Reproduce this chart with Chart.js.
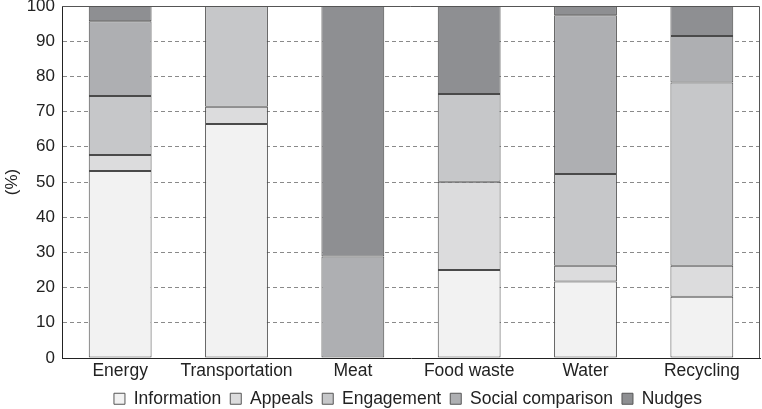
<!DOCTYPE html>
<html>
<head>
<meta charset="utf-8">
<script src="https://cdn.jsdelivr.net/npm/chart.js@4.4.1/dist/chart.umd.min.js"></script>
<style>
  html, body { margin: 0; padding: 0; background: #fff; }
  #wrap { width: 762px; height: 409px; }
</style>
</head>
<body>
<div id="wrap"><canvas id="chart" width="762" height="409"></canvas></div>
<script>
const categories = ['Energy', 'Transportation', 'Meat', 'Food waste', 'Water', 'Recycling'];
const information = [53.1, 66.5, 0, 25.0, 21.7, 17.4];
const appeals = [4.6, 4.9, 0, 25.1, 4.5, 8.8];
const engagement = [16.7, 28.6, 0, 24.9, 26.1, 52.1];
const socialComparison = [21.3, 0, 28.8, 0, 45.1, 13.2];
const nudges = [4.3, 0, 71.2, 25.0, 2.6, 8.5];
const yTicks = [0, 10, 20, 30, 40, 50, 60, 70, 80, 90, 100];

const FONT = "'Liberation Sans', Arial, sans-serif";

// draws the top and right edge of the plot box, and moves the legend
const frame = {
    id: 'frame',
    afterDatasetsDraw(chart) {
        const a = chart.chartArea;
        const ctx = chart.ctx;
        ctx.save();
        ctx.strokeStyle = '#555';
        ctx.lineWidth = 1;
        ctx.beginPath();
        ctx.moveTo(a.left, a.top + 0.5);
        ctx.lineTo(a.right - 0.5, a.top + 0.5);
        ctx.lineTo(a.right - 0.5, a.bottom);
        ctx.stroke();
        ctx.restore();
    },
    afterLayout(chart) {
        const lg = chart.legend;
        lg.top = 381;
        lg.bottom = 409;
        lg.left += 28;
        lg.right += 28;
    }
};

const series = [
    ['Information', information, '#f2f2f2'],
    ['Appeals', appeals, '#dcdcdd'],
    ['Engagement', engagement, '#c6c7c9'],
    ['Social comparison', socialComparison, '#aeafb2'],
    ['Nudges', nudges, '#8e8f92']
];

new Chart(document.getElementById('chart'), {
    type: 'bar',
    data: {
        labels: categories,
        datasets: series.map(([label, data, color]) => ({
            label: label,
            data: data,
            backgroundColor: color,
            borderColor: '#4a4a4a',
            borderWidth: 1,
            borderSkipped: false,
            categoryPercentage: 0.54,
            barPercentage: 1
        }))
    },
    options: {
        responsive: false,
        animation: false,
        layout: {padding: {top: 6, right: 2, left: 0, bottom: 0}},
        scales: {
            x: {
                stacked: true,
                grid: {display: false, drawTicks: false, tickLength: 0},
                border: {color: '#222', width: 1},
                ticks: {
                    color: '#222', font: {family: FONT, size: 17.5}, padding: 3,
                    maxRotation: 0, minRotation: 0, autoSkip: false
                },
                afterFit: (s) => { s.height = 26; }
            },
            y: {
                stacked: true,
                min: 0,
                max: 100,
                afterBuildTicks: (axis) => { axis.ticks = yTicks.map(v => ({value: v})); },
                afterFit: (s) => { s.width = 62; s.paddingTop = 0; s.paddingBottom = 0; },
                grid: {
                    color: (c) => (c.tick && (c.tick.value === 0 || c.tick.value === 100)) ? 'rgba(0,0,0,0)' : '#8a8a8a',
                    drawTicks: false
                },
                border: {color: '#222', width: 1, dash: [4, 3]},
                ticks: {color: '#222', font: {family: FONT, size: 17}, padding: 7},
                title: {display: true, text: '(%)', color: '#222', font: {family: FONT, size: 17}, padding: {top: 2, bottom: 0}}
            }
        },
        plugins: {
            legend: {
                position: 'bottom',
                maxHeight: 25,
                labels: {
                    color: '#222',
                    font: {family: FONT, size: 17.5},
                    boxWidth: 11,
                    boxHeight: 11,
                    padding: 9,
                    generateLabels: (chart) => chart.data.datasets.map((d, i) => ({
                        text: d.label,
                        fillStyle: d.backgroundColor,
                        strokeStyle: '#555',
                        lineWidth: 1,
                        datasetIndex: i,
                        fontColor: '#222'
                    }))
                }
            },
            tooltip: {enabled: false}
        }
    },
    plugins: [frame]
});
</script>
</body>
</html>
